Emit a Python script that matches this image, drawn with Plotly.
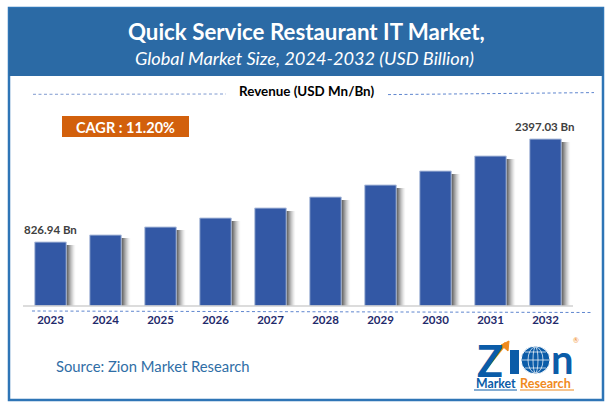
import plotly.graph_objects as go

W, H = 611, 408
years = ["2023","2024","2025","2026","2027","2028","2029","2030","2031","2032"]
revenue = [826.94, 934, 1056, 1193, 1345, 1513, 1696, 1909, 2138, 2397.03]
labels = ["826.94 Bn","","","","","","","","","2397.03 Bn"]
title = "Quick Service Restaurant IT Market,"
subtitle = "Global Market Size, 2024-2032 (USD Billion)"
axis_title = "Revenue (USD Mn/Bn)"
cagr = "CAGR : 11.20%"
source = "Source: Zion Market Research"
FONT = "Lato"
axis_floor = -148
PER_PX = 15.24
BAR_W = 31.5/55

def px(x): return x/W
def py(y): return 1-y/H

fig = go.Figure()
# soft shadow to the right of each bar
shadow_alpha = [0.03,0.05,0.07,0.09,0.11,0.14,0.17,0.20,0.23]
for i, a in zip(range(9, 0, -1), shadow_alpha):
    fig.add_trace(go.Bar(x=years, y=[v-axis_floor-3*PER_PX for v in revenue], base=axis_floor,
                         width=BAR_W, offset=-BAR_W/2+i/55,
                         marker=dict(color=f"rgba(30,30,30,{a})", line_width=0),
                         hoverinfo="skip", showlegend=False))
fig.add_trace(go.Bar(x=years, y=[v-axis_floor for v in revenue], base=axis_floor,
                     width=BAR_W, offset=-BAR_W/2,
                     marker=dict(color="#3358A5", line=dict(color="#B4C2DE", width=1)),
                     showlegend=False))
for idx, (v, lab) in enumerate(zip(revenue, labels)):
    if lab:
        fig.add_annotation(x=idx, y=v, text=lab, showarrow=False, yshift=13, yanchor="middle",
                           font=dict(family=FONT, size=11.5, color="#404040", weight="bold"))

shapes = []
def rect(x0,y0,x1,y1,fill,line=None,lw=0,layer="below"):
    shapes.append(dict(type="rect",xref="paper",yref="paper",x0=px(x0),x1=px(x1),y0=py(y0),y1=py(y1),
                       fillcolor=fill,line=dict(color=line or fill,width=lw),layer=layer))
def seg(x0,y0,x1,y1,color,w=1,dash=None,layer="above"):
    shapes.append(dict(type="line",xref="paper",yref="paper",x0=px(x0),x1=px(x1),y0=py(y0),y1=py(y1),
                       line=dict(color=color,width=w,dash=dash),layer=layer))
def text(x,y,s,size,color,weight="normal",style="normal",anchor="center",height=None):
    fig.add_annotation(xref="paper",yref="paper",x=px(x),y=py(y),text=s,showarrow=False,
                       xanchor=anchor,yanchor="middle",height=height,
                       font=dict(family=FONT,size=size,color=color,weight=weight,style=style))

rect(9,8,603,400,"white","#2E75B6",2.5)
rect(9,8,603,76,"#2B6AA5")
rect(62,116,189,137,"#D2600C")
seg(23,306,573,306,"#D0D0D0",1.5)
seg(32,311,593,312.5,"#5F86CF",1,"3px,2.5px")
seg(33,94.3,226,94,"#7F9AD0",1,"3px,2.5px")
seg(388,94.6,594,92.6,"#5F86CF",1,"3px,2.5px")

text(306,32,title,22.3,"white","bold")
text(304.5,58.5,subtitle,18.2,"white",style="italic")
text(306,91.5,axis_title,13.4,"black","bold")
text(125.5,127,cagr,14.5,"white","bold")
text(54,366,source,14.8,"#2F6EA6",anchor="left")

# logo
LOGO = "#0B5CA8"; ORG = "#F08A1D"
text(475,360,"Z",43,LOGO,"bold",anchor="left",height=34)
shapes.append(dict(type="circle",xref="paper",yref="paper",x0=px(521),x1=px(550),y0=py(374),y1=py(346),
                   fillcolor=LOGO,line=dict(color="white",width=1)))
for a,b in [(528,543),(533,538)]:
    shapes.append(dict(type="circle",xref="paper",yref="paper",x0=px(a),x1=px(b),y0=py(373),y1=py(347),
                       fillcolor="rgba(0,0,0,0)",line=dict(color="white",width=0.7)))
seg(522,360,549,360,"white",0.7)
seg(525,352,546,352,"white",0.7)
seg(525,368,546,368,"white",0.7)
rect(510,350,519,374,LOGO,layer="above")
text(549,359,"n",40,LOGO,"bold",anchor="left",height=30)
seg(482,373,506,343,ORG,3)
shapes.append(dict(type="path",xref="paper",yref="paper",
                   path=f"M {px(501)} {py(345)} L {px(509)} {py(341)} L {px(508)} {py(351)} Z",
                   fillcolor=ORG,line=dict(color=ORG,width=1)))
text(576,340,"®",7,ORG)
text(474,383,"Market",12.3,"#0B5CA8","bold",anchor="left")
text(518,383,"Research",12.6,ORG,"bold",anchor="left")
seg(474,390,517,390,"#0B5CA8",1)
seg(520,390,574,390,ORG,1)

fig.update_layout(
    width=W,height=H,margin=dict(l=0,r=0,t=0,b=0,autoexpand=False),
    paper_bgcolor="white",plot_bgcolor="rgba(0,0,0,0)",barmode="overlay",showlegend=False,
    shapes=shapes,font=dict(family=FONT),
    xaxis=dict(domain=[px(24),px(587)],type="category",range=[-0.482,9.755],showgrid=False,
               showline=False,ticks="",zeroline=False,ticklabelstandoff=5,
               tickfont=dict(family=FONT,size=11.5,color="#1F2A6B",weight="bold")),
    yaxis=dict(domain=[py(306),py(120)],range=[axis_floor,axis_floor+186*PER_PX],visible=False),
)
fig.write_html("out.html",config={"displayModeBar":False},
               post_script="document.body.style.margin='0';document.documentElement.style.overflow='hidden';")
